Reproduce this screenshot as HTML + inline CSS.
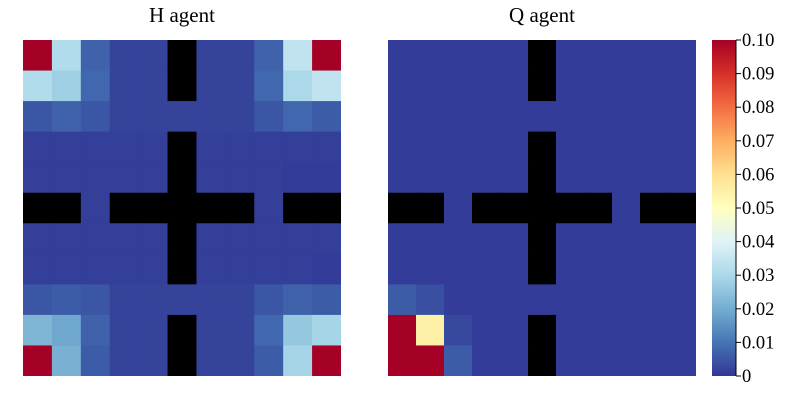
<!DOCTYPE html>
<html><head><meta charset="utf-8"><style>
body{margin:0;background:#fff;}
svg{display:block;font-family:"Liberation Serif","DejaVu Serif",serif;}
</style></head><body>
<svg id="chart" width="800" height="400"></svg>
<script>
const W = null;
const hValues = [
 [0.100,0.031,0.007,0.002,0.002,W,0.002,0.002,0.007,0.034,0.100],
 [0.031,0.028,0.008,0.002,0.002,W,0.002,0.002,0.008,0.030,0.034],
 [0.005,0.007,0.005,0.002,0.002,0.002,0.002,0.002,0.005,0.008,0.006],
 [0.0015,0.0015,0.0015,0.0015,0.0015,W,0.0015,0.0015,0.0015,0.0015,0.0015],
 [0.0015,0.0015,0.0015,0.0015,0.0015,W,0.0015,0.0015,0.0015,0.001,0.001],
 [W,W,0.0015,W,W,W,W,W,0.0015,W,W],
 [0.0015,0.0015,0.0015,0.0015,0.0015,W,0.0015,0.0015,0.0015,0.0015,0.0015],
 [0.0015,0.0015,0.0015,0.0015,0.0015,W,0.0015,0.0015,0.0015,0.0015,0.001],
 [0.005,0.006,0.005,0.002,0.002,0.002,0.002,0.002,0.005,0.007,0.006],
 [0.022,0.019,0.007,0.002,0.002,W,0.002,0.002,0.008,0.026,0.029],
 [0.100,0.021,0.006,0.002,0.002,W,0.002,0.002,0.006,0.029,0.100]
];
const qValues = [
 [0.001,0.001,0.001,0.001,0.001,W,0.001,0.001,0.001,0.001,0.001],
 [0.001,0.001,0.001,0.001,0.001,W,0.001,0.001,0.001,0.001,0.001],
 [0.001,0.001,0.001,0.001,0.001,0.001,0.001,0.001,0.001,0.001,0.001],
 [0.001,0.001,0.001,0.001,0.001,W,0.001,0.001,0.001,0.001,0.001],
 [0.001,0.001,0.001,0.001,0.001,W,0.001,0.001,0.001,0.001,0.001],
 [W,W,0.001,W,W,W,W,W,0.001,W,W],
 [0.001,0.001,0.001,0.001,0.001,W,0.001,0.001,0.001,0.001,0.001],
 [0.001,0.001,0.001,0.001,0.001,W,0.001,0.001,0.001,0.001,0.001],
 [0.006,0.004,0.001,0.001,0.001,0.001,0.001,0.001,0.001,0.001,0.001],
 [0.100,0.055,0.003,0.001,0.001,W,0.001,0.001,0.001,0.001,0.001],
 [0.100,0.100,0.006,0.001,0.001,W,0.001,0.001,0.001,0.001,0.001]
];
const panelTitles = ["H agent","Q agent"];
const cbTicks = [0,0.01,0.02,0.03,0.04,0.05,0.06,0.07,0.08,0.09,0.10];
const cbTickLabels = ["0","0.01","0.02","0.03","0.04","0.05","0.06","0.07","0.08","0.09","0.10"];
const vmin = 0, vmax = 0.10;

const stops = ["#313695","#4575b4","#74add1","#abd9e9","#e0f3f8","#ffffbf","#fee090","#fdae61","#f46d43","#d73027","#a50026"];
function hex(c){return [1,3,5].map(i=>parseInt(c.substr(i,2),16));}
function cmap(v){
  let t=Math.max(0,Math.min(1,(v-vmin)/(vmax-vmin)))*10;
  let i=Math.min(9,Math.floor(t)),f=t-i;
  let a=hex(stops[i]),b=hex(stops[i+1]);
  return "rgb("+a.map((x,k)=>Math.round(x+(b[k]-x)*f)).join(",")+")";
}
const NS="http://www.w3.org/2000/svg";
const svg=document.getElementById("chart");
function mk(tag,attrs,parent){const e=document.createElementNS(NS,tag);for(const k in attrs)e.setAttribute(k,attrs[k]);(parent||svg).appendChild(e);return e;}

const panels=[{x0:23,x1:341,data:hValues},{x0:388,x1:696,data:qValues}];
const y0=40,y1=376;
panels.forEach((p,pi)=>{
  const g=mk("g",{});
  
  
  const n=p.data.length, m=p.data[0].length;
  const cw=(p.x1-p.x0)/m, ch=(y1-y0)/n;
  const xs=c=>p.x0+c*cw, ys=r=>y0+r*ch;
  p.data.forEach((row,r)=>row.forEach((v,c)=>{
    const w=(c===m-1)?cw:cw+0.6, h=(r===n-1)?ch:ch+0.6;
    const rect=mk("rect",{x:xs(c).toFixed(2),y:ys(r).toFixed(2),width:w.toFixed(2),height:h.toFixed(2),fill:v===null?"#000":cmap(v)},g);
    
    
  }));
  const t=mk("text",{x:(p.x0+p.x1)/2,y:22,"text-anchor":"middle","font-size":"21",fill:"#000"});
  t.textContent=panelTitles[pi];
  
  
});

const cbx=712,cbw=24;
const defs=mk("defs",{});
const grad=mk("linearGradient",{id:"cbg",x1:"0",y1:"1",x2:"0",y2:"0"},defs);
stops.forEach((s,i)=>mk("stop",{offset:(i/10),"stop-color":s},grad));
const cb=mk("rect",{x:cbx,y:y0,width:cbw,height:y1-y0,fill:"url(#cbg)"});


mk("line",{x1:cbx+cbw,y1:y0,x2:cbx+cbw,y2:y1,stroke:"#000","stroke-width":1});
const cy=v=>y1-(v-vmin)/(vmax-vmin)*(y1-y0);
cbTicks.forEach((v,i)=>{
  const y=cy(v);
  const tk=mk("line",{x1:cbx+cbw,y1:y,x2:cbx+cbw+5,y2:y,stroke:"#000","stroke-width":1});
  
  
  const tl=mk("text",{x:cbx+cbw+6,y:y+6,"font-size":"18.5",fill:"#000"});
  tl.textContent=cbTickLabels[i];
  
  
});
</script>
</body></html>
